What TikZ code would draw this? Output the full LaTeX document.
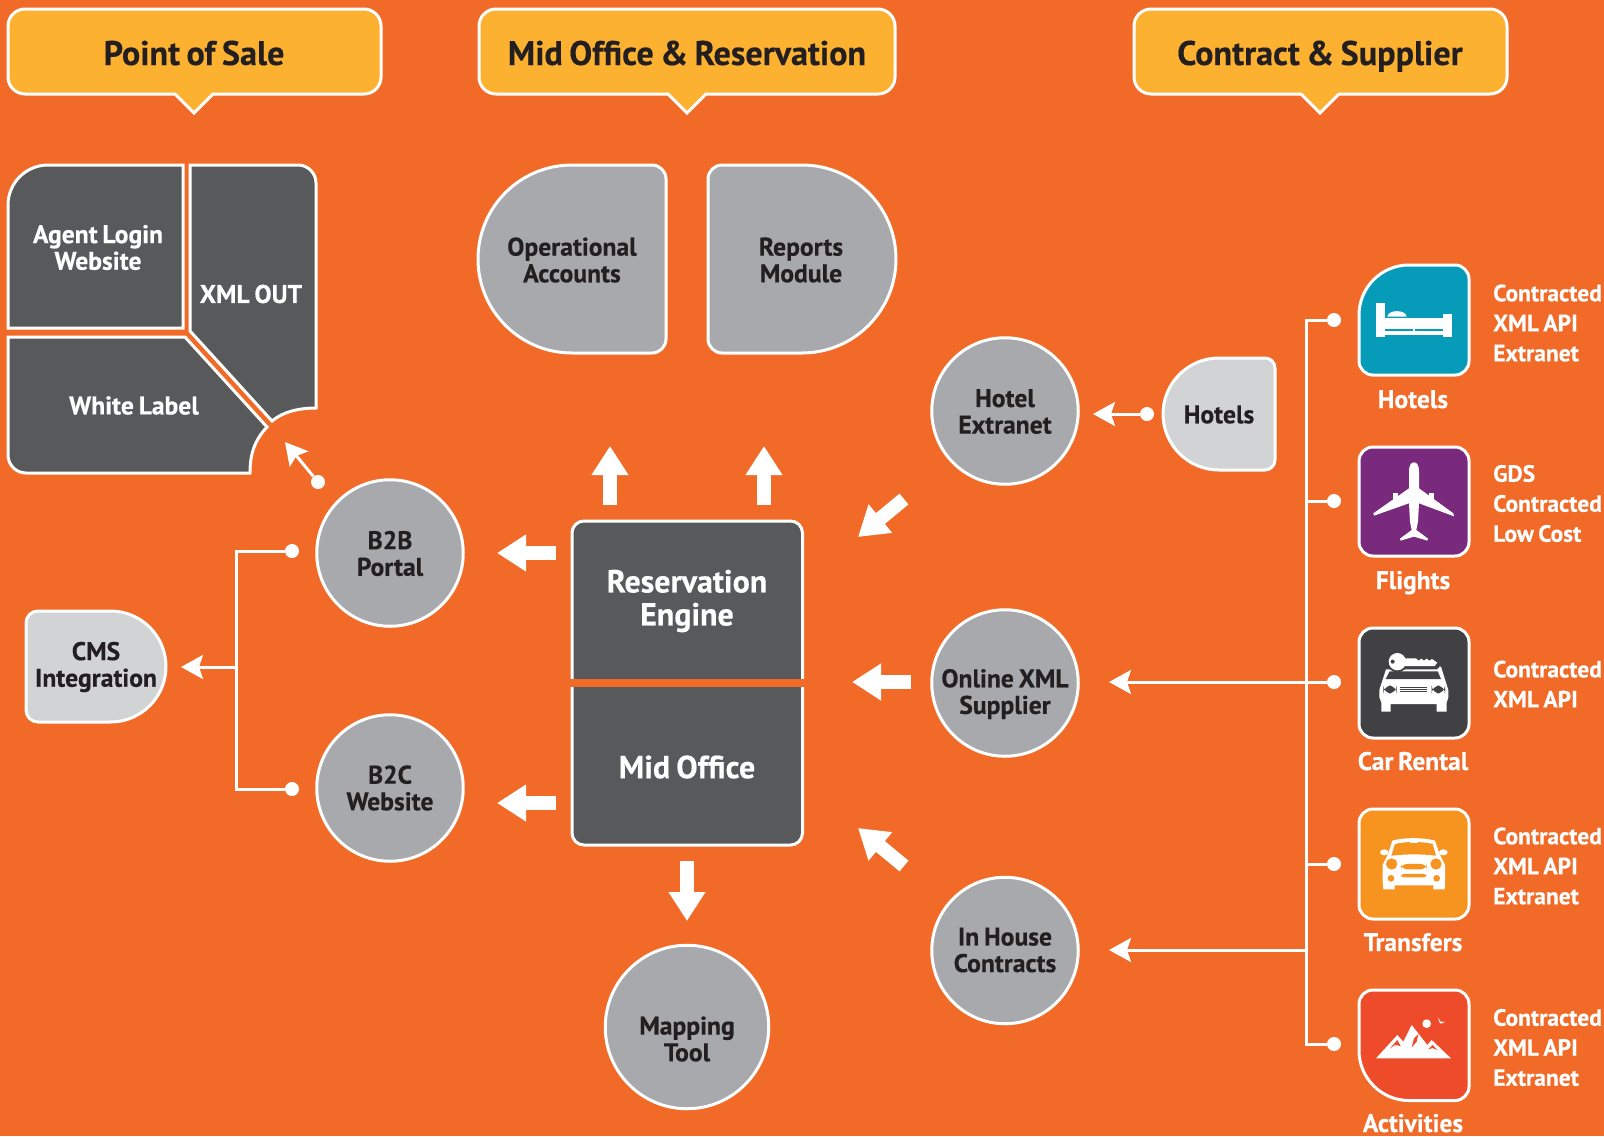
\documentclass[tikz,border=0pt]{standalone}
\usepackage{fontspec}
\setmainfont{PT Sans}[BoldFeatures={FakeBold=0.35,WordSpace=0.75}]
\usetikzlibrary{arrows.meta}
\definecolor{bgor}{HTML}{F16A27}
\definecolor{hdr}{HTML}{FDB131}
\definecolor{dk}{HTML}{58595B}
\definecolor{gr}{HTML}{A7A9AC}
\definecolor{lg}{HTML}{D1D3D4}
\definecolor{ink}{HTML}{231F20}
\definecolor{ichot}{HTML}{059BB9}
\definecolor{icfli}{HTML}{7A2A7C}
\definecolor{iccar}{HTML}{414042}
\definecolor{ictra}{HTML}{F79420}
\definecolor{icact}{HTML}{EE4B2B}
\tikzset{
  shapeline/.style={draw=white,line width=3pt,line join=miter},
  circ/.style={circle,draw=white,line width=3pt,fill=gr,inner sep=0pt},
  darktxt/.style={text=ink,align=center,inner sep=0pt,font=\fontsize{25.6}{26.6}\selectfont\bfseries},
  whitetxt/.style={text=white,align=center,inner sep=0pt,font=\fontsize{25.6}{26.6}\selectfont\bfseries},
  bigwhite/.style={text=white,align=center,inner sep=0pt,font=\fontsize{32}{33}\selectfont\bfseries},
  headtxt/.style={text=ink,inner sep=0pt,anchor=base,font=\fontsize{34.2}{36}\selectfont\bfseries},
  sidetxt/.style={text=white,align=left,inner sep=0pt,anchor=west,font=\fontsize{23.5}{30}\selectfont\bfseries},
  icotxt/.style={text=white,inner sep=0pt,anchor=base,font=\fontsize{25.5}{27}\selectfont\bfseries},
  blockarrow/.style={draw=white,line width=14pt,-{Triangle[length=29pt,width=35pt]}},
  thinarrow/.style={draw=white,line width=3pt,-{Stealth[length=22pt,width=24pt,inset=4pt]}},
  plainline/.style={draw=white,line width=3pt},
  dot/.style={fill=white,circle,inner sep=0pt,minimum size=14pt},
}
\newcommand{\cshape}[9]{%
  \path[shapeline,fill=#9] (#1,{#2+#5})
    .. controls (#1,{#2+#5*.4477}) and ({#1+#5*.4477},#2) .. ({#1+#5},#2)
    -- ({#3-#6},#2)
    .. controls ({#3-#6*.4477},#2) and (#3,{#2+#6*.4477}) .. (#3,{#2+#6})
    -- (#3,{#4-#7})
    .. controls (#3,{#4-#7*.4477}) and ({#3-#7*.4477},#4) .. ({#3-#7},#4)
    -- ({#1+#8},#4)
    .. controls ({#1+#8*.4477},#4) and (#1,{#4-#8*.4477}) .. (#1,{#4-#8})
    -- cycle;}
\newcommand{\headbox}[3]{%
  \path[shapeline,fill=hdr] ({#3-19},94) -- ({#1+17},94)
    .. controls ({#1+7.6},94) and (#1,86.4) .. (#1,77)
    -- (#1,26)
    .. controls (#1,16.6) and ({#1+7.6},9) .. ({#1+17},9)
    -- ({#2-17},9)
    .. controls ({#2-7.6},9) and (#2,16.6) .. (#2,26)
    -- (#2,77)
    .. controls (#2,86.4) and ({#2-7.6},94) .. ({#2-17},94)
    -- ({#3+19},94) -- (#3,113) -- cycle;}
\begin{document}
\begin{tikzpicture}[x=1pt,y=-1pt]
\useasboundingbox (0,0) rectangle (1604,1136);
\fill[bgor] (0,0) rectangle (1604,1136);
% headers
\headbox{8}{381}{194}
\headbox{479}{895}{687}
\headbox{1134}{1507}{1320}
\node[headtxt] (h1) at (194,65) {Point of Sale};
\node[headtxt] (h2) at (687,65) {Mid Office \& Reservation};
\node[headtxt] (h3) at (1320,65) {Contract \& Supplier};
% point of sale block
\cshape{8}{165}{183}{328}{40}{0}{0}{0}{dk}
\path[shapeline,fill=dk] (190,331) -- (190,165) [rounded corners=18pt] -- (316,165) [sharp corners] -- (316,408)
   .. controls (300.5,408) and (284,411) .. (272,421) -- cycle;
\path[shapeline,fill=dk] (8,337) -- (185,337) -- (267,427) .. controls (254.3,440.5) and (250,454.5) .. (250,473)
   [rounded corners=18pt] -- (8,473) [sharp corners] -- cycle;
\node[whitetxt] (agent) at (98,247.5) {Agent Login\\Website};
\node[whitetxt] (xmlout) at (251,294) {XML OUT};
\node[whitetxt] (white) at (134,405.5) {White Label};
% mid office top
\cshape{478}{165}{666}{353}{94}{14}{14}{94}{gr}
\cshape{708}{165}{896}{353}{14}{94}{94}{14}{gr}
\node[darktxt] (ops) at (572,260) {Operational\\Accounts};
\node[darktxt] (rep) at (801,260) {Reports\\Module};
% engine
\cshape{572}{521}{802.5}{845}{12}{12}{12}{12}{dk}
\fill[bgor] (570,678.5) rectangle (805,686.5);
\node[bigwhite] (res) at (687,601) {Reservation\\Engine};
\node[bigwhite] (mid) at (687,767) {Mid Office};
% circles
\node[circ,minimum size=146.5pt] (hotelx) at (1005,411) {};
\node[circ,minimum size=146.5pt] (b2b) at (390,553) {};
\node[circ,minimum size=146.5pt] (b2c) at (390,788) {};
\node[circ,minimum size=146.5pt] (online) at (1005,683) {};
\node[circ,minimum size=146.5pt] (inhouse) at (1005,950.5) {};
\node[circ,minimum size=163.5pt] (mapping) at (687,1027) {};
\node[darktxt] (hotelxt) at (1005,411.5) {Hotel\\Extranet};
\node[darktxt] (b2bt) at (390,553.5) {B2B\\Portal};
\node[darktxt] (b2ct) at (390,788) {B2C\\Website};
\node[darktxt] (onlinet) at (1005,694) {Online XML\\Supplier};
\node[darktxt] (inhouset) at (1005,950) {In House\\Contracts};
\node[darktxt] (mappingt) at (687,1039) {Mapping\\Tool};
% small shapes
\cshape{1163}{358}{1275}{470}{56}{10}{10}{56}{lg}
\node[darktxt] (hotelsm) at (1219,414.5) {Hotels};
\cshape{26}{611}{166}{722}{12}{55.5}{55.5}{12}{lg}
\node[darktxt] (cms) at (96,667) {CMS\\Integration};
% block arrows
\coordinate (ba1s) at (610,505); \coordinate (ba1e) at (610,446);
\coordinate (ba2s) at (764,505); \coordinate (ba2e) at (764,446);
\coordinate (ba3s) at (556,553); \coordinate (ba3e) at (497,553);
\coordinate (ba4s) at (556,803); \coordinate (ba4e) at (497,803);
\coordinate (ba5s) at (687,861); \coordinate (ba5e) at (687,921);
\coordinate (ba6s) at (904,499); \coordinate (ba6e) at (858,537);
\coordinate (ba7s) at (911,682); \coordinate (ba7e) at (852,682);
\coordinate (ba8s) at (904,866); \coordinate (ba8e) at (858,828);
\foreach \i in {1,...,8}{\draw[blockarrow] (ba\i s) -- (ba\i e);}
% thin connectors
\node[dot] (dhot) at (1147,414) {};
\coordinate (ahot) at (1093,414);
\draw[thinarrow] (dhot) -- (ahot);
\node[dot] (dxml) at (318,482) {};
\coordinate (axml) at (285,442);
\draw[thinarrow] (dxml) -- (axml);
\node[dot] (db2b) at (292,551) {};
\node[dot] (db2c) at (292,789) {};
\coordinate (jl) at (236,667);
\coordinate (acms) at (181,667);
\draw[plainline,line join=miter] (db2b) -| (jl) |- (db2c);
\draw[thinarrow] (jl) -- (acms);
% right trunk
\node[dot] (d1) at (1334,320) {};
\node[dot] (d2) at (1334,501) {};
\node[dot] (d3) at (1334,682) {};
\node[dot] (d4) at (1334,864) {};
\node[dot] (d5) at (1334,1044) {};
\coordinate (tr) at (1306,682);
\coordinate (tr2) at (1306,950);
\coordinate (a3) at (1109,682);
\coordinate (a4) at (1109,950);
\draw[plainline,line join=miter] (d1) -| (tr) |- (d5);
\draw[plainline] (tr|-d2) -- (d2);
\draw[plainline] (tr|-d4) -- (d4);
\draw[plainline] (tr) -- (d3);
\draw[thinarrow] (tr) -- (a3);
\draw[thinarrow] (tr2) -- (a4);
% icons
\cshape{1359}{265}{1469}{375}{50}{14}{14}{14}{ichot}
\cshape{1359}{447}{1469}{556}{14}{14}{14}{14}{icfli}
\cshape{1359}{628}{1469}{738}{14}{14}{14}{14}{iccar}
\cshape{1359}{809}{1469}{919}{14}{14}{14}{14}{ictra}
\cshape{1359}{990}{1469}{1100.5}{14}{14}{14}{50}{icact}
% bed
\begin{scope}[shift={(1340,250)},x=0.3333pt,y=-0.3333pt]
\fill[white] (108,160) rectangle (135,262);
\fill[white] (308,192) rectangle (335,262);
\fill[white] (135,205) rectangle (308,238);
\fill[white] (135,244) rectangle (308,256);
\fill[white] (220,238) rectangle (225,244);
\fill[white] (142,200) .. controls (144,178) and (198,178) .. (200,200) -- cycle;
\end{scope}
% plane
\begin{scope}[shift={(1340,250)},x=0.3333pt,y=-0.3333pt]
\fill[white] (222,637) .. controls (212,637) and (207,648) .. (207,665) -- (207,715) -- (100,790) -- (102,797)
  -- (207,760) -- (210,815) -- (215,840) -- (180,866) -- (182,872) -- (222,860) -- (262,872) -- (264,866)
  -- (229,840) -- (234,815) -- (237,760) -- (342,799) -- (340,790) -- (237,715) -- (237,665)
  .. controls (237,648) and (232,637) .. (222,637) -- cycle;
\fill[white] (160,728) rectangle (174,750);
\fill[white] (268,728) rectangle (282,750);
\end{scope}
% car with key
\begin{scope}[shift={(1340,610)},x=0.3333pt,y=-0.3333pt]
\fill[white] (138,178) -- (118,240) -- (118,262) -- (124,278) -- (124,305) -- (152,305) -- (152,282) -- (290,282)
  -- (290,305) -- (320,305) -- (320,278) -- (325,262) -- (325,240) -- (303,170) -- (293,170) -- (293,178) -- cycle;
\fill[iccar] (149,184) -- (293,184) -- (303,207) -- (137,207) -- cycle;
\fill[iccar,rounded corners=8pt] (130,227) rectangle (170,250);
\fill[iccar,rounded corners=8pt] (275,227) rectangle (315,250);
\fill[iccar] (180,232) rectangle (262,235);
\fill[iccar] (180,238) rectangle (262,241);
\fill[iccar] (180,244) rectangle (262,247);
\fill[iccar] (172,155) circle[radius=32];
\fill[iccar] (190,140) rectangle (298,174);
\fill[white] (172,155) circle[radius=26];
\fill[white] (190,145) -- (228,145) -- (236,152) -- (244,146) -- (252,152) -- (260,146) -- (268,152) -- (276,147)
  -- (292,158) -- (284,168) -- (190,168) -- cycle;
\fill[iccar] (158,155) circle[radius=6];
\end{scope}
% mini
\begin{scope}[shift={(1340,610)},x=0.3333pt,y=-0.3333pt]
\fill[white] (157,692) .. controls (190,682) and (250,682) .. (285,692) -- (298,730) -- (315,765) -- (315,815)
  -- (314,838) -- (280,838) -- (280,826) -- (164,826) -- (164,838) -- (130,838) -- (128,815) -- (128,765) -- (145,730) -- cycle;
\fill[white] (133,727) ellipse[x radius=13,y radius=9];
\fill[white] (310,727) ellipse[x radius=13,y radius=9];
\fill[ictra] (165,702) .. controls (200,694) and (245,694) .. (278,702) -- (288,737) .. controls (245,732) and (200,732) .. (154,737) -- cycle;
\fill[white] (210,692) rectangle (233,700);
\fill[ictra] (155,762) circle[radius=17];
\fill[ictra] (288,762) circle[radius=17];
\fill[ictra,rounded corners=6pt] (183,762) rectangle (260,778);
\fill[ictra,rounded corners=3pt] (183,792) rectangle (260,802);
\fill[ictra] (153,805) circle[radius=10];
\fill[ictra] (290,805) circle[radius=10];
\end{scope}
% mountain
\begin{scope}[shift={(1340,960)},x=0.3333pt,y=-0.3333pt]
\fill[white] (108,295) -- (172,225) -- (190,245) -- (215,195) -- (262,255) -- (275,240) -- (333,295) -- cycle;
\fill[icact] (150,265) -- (172,240) -- (182,258) -- (165,255) -- cycle;
\fill[icact] (215,262) -- (222,235) -- (235,222) -- (230,245) -- cycle;
\fill[icact] (265,268) -- (278,255) -- (292,270) -- (278,264) -- cycle;
\fill[white] (260,191) circle[radius=13];
\fill[white] (294,173) -- (302,185) -- (315,186) -- (303,191) -- (299,188) -- cycle;
\end{scope}
% icon labels
\node[icotxt] (lhot) at (1413,408) {Hotels};
\node[icotxt] (lfli) at (1413,589) {Flights};
\node[icotxt] (lcar) at (1413,770) {Car Rental};
\node[icotxt] (ltra) at (1413,951) {Transfers};
\node[icotxt] (lact) at (1413,1132) {Activities};
% side text
\node[sidetxt] (s1) at (1493,323) {Contracted\\XML API\\Extranet};
\node[sidetxt] (s2) at (1493,503.5) {GDS\\Contracted\\Low Cost};
\node[sidetxt] (s3) at (1493,684) {Contracted\\XML API};
\node[sidetxt] (s4) at (1493,866) {Contracted\\XML API\\Extranet};
\node[sidetxt] (s5) at (1493,1047.5) {Contracted\\XML API\\Extranet};
\end{tikzpicture}
\end{document}
